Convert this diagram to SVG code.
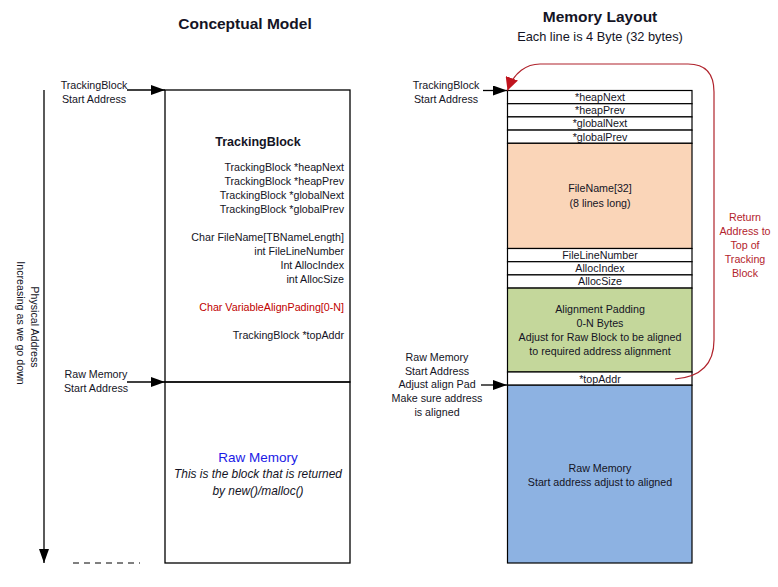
<svg xmlns="http://www.w3.org/2000/svg" width="778" height="587" viewBox="0 0 778 587">
<defs>
<style>
text{font-family:"Liberation Sans",Arial,sans-serif;fill:#141425;font-size:10.7px;}
.title{font-weight:bold;font-size:15.5px;}
.mid{text-anchor:middle;}
.end{text-anchor:end;}
.box{stroke:#000;stroke-width:1.3;fill:none;}
.row{stroke:#000;stroke-width:1.2;fill:#fff;}
.conn{stroke:#000;stroke-width:1.3;fill:none;}
.red{fill:#b3242d;}
</style>
<marker id="ahL" viewBox="0 0 10 10" refX="10" refY="5" markerWidth="14" markerHeight="10" markerUnits="userSpaceOnUse" orient="auto" preserveAspectRatio="none">
<path d="M0,0 L10,5 L0,10 z" fill="#000"/>
</marker>
<marker id="ahR" viewBox="0 0 10 10" refX="10" refY="5" markerWidth="13" markerHeight="13" markerUnits="userSpaceOnUse" orient="auto">
<path d="M0,0 L10,5 L0,10 z" fill="#c0141e"/>
</marker>
</defs>
<rect width="778" height="587" fill="#fff"/>

<!-- Titles -->
<g id="titles">
<text x="245" y="29" class="title mid">Conceptual Model</text>
<text x="600" y="22" class="title mid">Memory Layout</text>
<text x="600" y="41" class="mid" style="font-size:12.8px">Each line is 4 Byte (32 bytes)</text>
</g>

<!-- Left: physical address axis -->
<g id="axis">
<text transform="translate(31,327) rotate(90)" class="mid">Physical Address</text>
<text transform="translate(17,323) rotate(90)" class="mid">Increasing as we go down</text>
</g>

<!-- Conceptual model box -->
<g id="conceptual-tracking">
<rect x="165" y="90" width="185" height="292" class="box"/>
<text x="258" y="146" class="mid" style="font-weight:bold;font-size:12.5px">TrackingBlock</text>
<text x="344" y="171" class="end">TrackingBlock *heapNext</text>
<text x="344" y="185" class="end">TrackingBlock *heapPrev</text>
<text x="344" y="199" class="end">TrackingBlock *globalNext</text>
<text x="344" y="213" class="end">TrackingBlock *globalPrev</text>
<text x="344" y="241" class="end">Char FileName[TBNameLength]</text>
<text x="344" y="255" class="end">int FileLineNumber</text>
<text x="344" y="269" class="end">Int AllocIndex</text>
<text x="344" y="283" class="end">int AllocSize</text>
<text x="344" y="311" class="end" style="fill:#c00000">Char VariableAlignPading[0-N]</text>
<text x="344" y="339" class="end">TrackingBlock *topAddr</text>
</g>
<g id="conceptual-raw">
<rect x="165" y="382" width="185" height="181" class="box"/>
<text x="258" y="462" class="mid" style="fill:#1a1ae6;font-size:13.5px">Raw Memory</text>
<text x="258" y="478" class="mid" style="font-style:italic;font-size:11.9px">This is the block that is returned</text>
<text x="258" y="495" class="mid" style="font-style:italic;font-size:11.9px">by new()/malloc()</text>
</g>

<g id="left-labels">
<text x="94" y="89" class="mid">TrackingBlock</text>
<text x="94" y="103" class="mid">Start Address</text>
<text x="96" y="378" class="mid">Raw Memory</text>
<text x="96" y="392" class="mid">Start Address</text>
</g>

<!-- Memory layout -->
<g id="mem-heapNext"><rect x="507.5" y="90.5" width="184.5" height="13.2" class="row"/><text x="600" y="101" class="mid">*heapNext</text></g>
<g id="mem-heapPrev"><rect x="507.5" y="103.7" width="184.5" height="13.2" class="row"/><text x="600" y="114.2" class="mid">*heapPrev</text></g>
<g id="mem-globalNext"><rect x="507.5" y="116.9" width="184.5" height="13.2" class="row"/><text x="600" y="127.4" class="mid">*globalNext</text></g>
<g id="mem-globalPrev"><rect x="507.5" y="130.1" width="184.5" height="13.2" class="row"/><text x="600" y="140.6" class="mid">*globalPrev</text></g>
<g id="mem-filename"><rect x="507.5" y="143.3" width="184.5" height="105.2" class="row" style="fill:#fad5b8"/>
<text x="600" y="192" class="mid">FileName[32]</text>
<text x="600" y="207" class="mid">(8 lines long)</text></g>
<g id="mem-fileline"><rect x="507.5" y="248.5" width="184.5" height="13.2" class="row"/><text x="600" y="259" class="mid">FileLineNumber</text></g>
<g id="mem-allocindex"><rect x="507.5" y="261.7" width="184.5" height="13.2" class="row"/><text x="600" y="272.2" class="mid">AllocIndex</text></g>
<g id="mem-allocsize"><rect x="507.5" y="274.9" width="184.5" height="13.2" class="row"/><text x="600" y="285.4" class="mid">AllocSize</text></g>
<g id="mem-padding"><rect x="507.5" y="288.1" width="184.5" height="83.9" class="row" style="fill:#c4d79b"/>
<text x="600" y="313" class="mid">Alignment Padding</text>
<text x="600" y="327" class="mid">0-N Bytes</text>
<text x="600" y="341" class="mid">Adjust for Raw Block to be aligned</text>
<text x="600" y="355" class="mid">to required address alignment</text></g>
<g id="mem-topaddr"><rect x="507.5" y="372" width="184.5" height="13.2" class="row"/><text x="600" y="382.5" class="mid">*topAddr</text></g>
<g id="mem-raw"><rect x="507.5" y="385.2" width="184.5" height="177.8" class="row" style="fill:#8db2e2"/>
<text x="600" y="472" class="mid">Raw Memory</text>
<text x="600" y="486" class="mid">Start address adjust to aligned</text></g>

<g id="right-labels">
<text x="446" y="89" class="mid">TrackingBlock</text>
<text x="446" y="103" class="mid">Start Address</text>
<text x="437" y="361" class="mid">Raw Memory</text>
<text x="437" y="375" class="mid">Start Address</text>
<text x="437" y="388" class="mid">Adjust align Pad</text>
<text x="437" y="402" class="mid">Make sure address</text>
<text x="437" y="416" class="mid">is aligned</text>
</g>
<g id="return-label">
<text x="745" y="221" class="mid red">Return</text>
<text x="745" y="235" class="mid red">Address to</text>
<text x="745" y="249" class="mid red">Top of</text>
<text x="745" y="263" class="mid red">Tracking</text>
<text x="745" y="277" class="mid red">Block</text>
</g>

<!-- Connectors -->
<g id="connectors">
<line x1="44" y1="90" x2="44" y2="563" class="conn" marker-end="url(#ahL)"/>
<line x1="73" y1="563" x2="140" y2="563" stroke="#000" stroke-width="1" stroke-dasharray="6,5"/>
<line x1="127" y1="90" x2="165" y2="90" class="conn" marker-end="url(#ahL)"/>
<line x1="127" y1="382" x2="165" y2="382" class="conn" marker-end="url(#ahL)"/>
<line x1="483" y1="90.5" x2="507" y2="90.5" class="conn" marker-end="url(#ahL)"/>
<line x1="481" y1="385" x2="507" y2="385" class="conn" marker-end="url(#ahL)"/>
<path d="M675,379 C700,377 714,365 714,340 L714,92 C714,72 704,64 688,64 L540,64 C527,64 514,72 507.5,90.5" fill="none" stroke="#b0232c" stroke-width="1.2" marker-end="url(#ahR)"/>
</g>
</svg>
